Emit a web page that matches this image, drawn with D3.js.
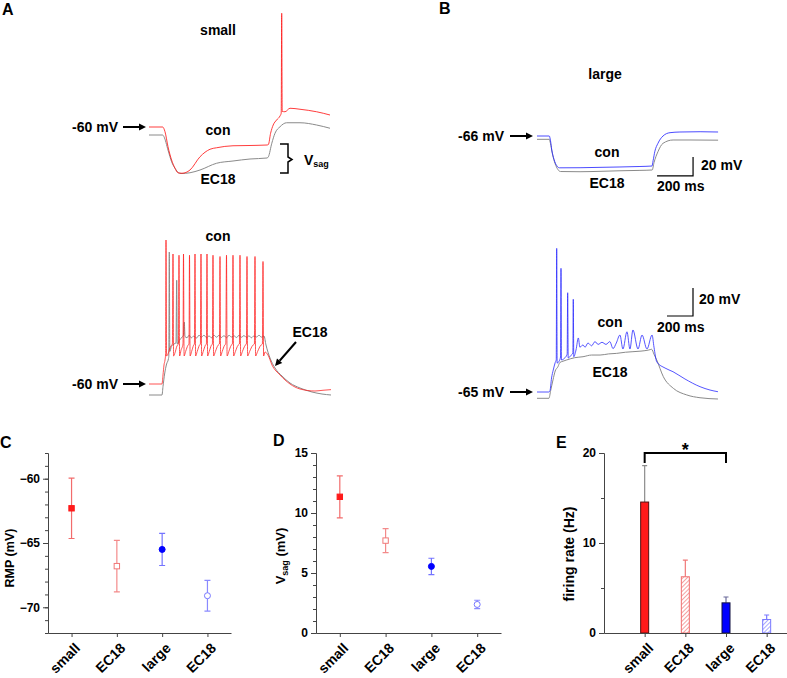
<!DOCTYPE html>
<html><head><meta charset="utf-8">
<script src="https://cdn.jsdelivr.net/npm/d3@7"></script>
<style>
body{margin:0;background:#fff}
svg text{font-family:"Liberation Sans",Arial,sans-serif;font-weight:bold;fill:#000}
</style>
</head><body>
<svg id="fig" width="787" height="678"></svg>
<script>
// ---------------- DATA ----------------
const cats = ["small","EC18","large","EC18"];
// C: resting membrane potential (mV)
const rmpMean = [-62.3,-66.8,-65.5,-69.1];
const rmpSem  = [2.35,2.0,1.25,1.2];
// D: Vsag (mV)
const vsagMean = [11.35,7.7,5.55,2.38];
const vsagSem  = [1.75,1.0,0.68,0.35];
// E: firing rate (Hz)
const rateMean = [14.55,6.25,3.35,1.5];
const rateSem  = [4.05,1.85,0.65,0.5];

const yTicksC = [-70,-65,-60];
const yTicksD = [0,5,10,15];
const yTicksE = [0,10,20];

// traces: [time ms, voltage mV]
const aTopCon = [[0,-60],[68,-60],[80,-63.8],[95,-75.8],[113,-86.4],[130,-93],[145,-96.6],[165,-97],[205,-94.4],[255,-83.8],[305,-77.8],[338,-76.6],[420,-75],[500,-74.8],[590,-74.4],[597,-74],[608,-65],[621,-58.4],[638,-54.4],[655,-51.2],[661,-49],[663.5,31],[666,-47.5],[680,-47.8],[705,-45],[755,-45.8],[838,-47.8],[905,-50.4]];
const aTopEC18 = [[0,-66.4],[68,-66.4],[75,-67.8],[95,-78.4],[113,-87.8],[130,-93],[147,-96.6],[160,-97.2],[205,-96.6],[255,-94.4],[338,-89],[420,-87.2],[505,-85.6],[590,-84.8],[597,-83.8],[614,-73],[630,-65],[655,-59.8],[688,-56.6],[755,-56.6],[838,-58.4],[905,-61]];
const aBotCon = [[0,-60],[65,-60],[70,-52.8],[75,-44.8],[80,-40.8],[83,-36],[85,55.2],[88,-37.6],[95,-36],[105,-31],[115,-28.5],[117,-28],[120,44],[123,-37.6],[130,-35],[140,-29.5],[147,-28],[150,43],[153,-37.6],[160,-33],[170,-28],[172.5,44],[175.5,-37.6],[183,-34],[195,-29],[200,-28],[202.5,43],[205.5,-37.6],[213,-34],[223,-29],[227,-28],[230,44],[233,-37.6],[241,-34],[252,-29],[257,-28],[260,44],[263,-37.6],[271,-34],[282,-29],[287,-28],[290,44],[293,-37.6],[301,-34],[312,-29],[317,-28],[320,43],[323,-37.6],[332,-34],[345,-29],[352,-28],[355,42],[358,-37.6],[366,-34],[378,-29],[384,-28],[387.5,43],[390.5,-37.6],[399,-34],[411,-29],[417,-28],[420,43],[423,-37.6],[432,-34],[445,-29],[452,-28],[455,43],[458,-37.6],[467,-34],[481,-29],[487,-28],[490,42],[493,-37.6],[503,-34],[519,-29],[527,-28],[530,42],[533,-37.6],[543,-34],[559,-29],[567,-28],[570,38],[573,-37.6],[580,-34.4],[595,-36.8],[615,-44.8],[655,-52.8],[705,-60],[755,-64],[830,-65.6],[870,-65],[910,-64.5]];
const aBotEC18 = [[0,-68.8],[65,-68.8],[70,-62],[78,-52],[88,-44],[97,-40],[99,-38],[101.5,45.6],[104,-34],[112,-30],[125,-28],[135,-27],[138.5,23],[141,-28],[152,-25],[168,-22],[172,-21],[176.5,-10.4],[180,-22],[190,-23],[200,-21],[212,-23],[225,-21.5],[238,-23.2],[250,-21],[262,-22.5],[275,-21],[288,-23],[300,-21.5],[312,-23],[325,-21],[338,-22.6],[350,-21],[362,-22.8],[375,-21.3],[388,-23],[400,-21],[412,-22.4],[425,-21.5],[438,-22.8],[450,-21],[462,-22.6],[475,-21.3],[488,-22.8],[500,-21.5],[512,-23],[525,-21.5],[538,-22.4],[550,-21],[562,-22.5],[575,-21.6],[585,-28.8],[605,-39.2],[630,-47.2],[665,-53.6],[705,-59.2],[755,-63.2],[815,-66.4],[865,-68],[910,-68.8]];
const bTopCon = [[0,-66],[68,-66],[75,-71],[82,-80.7],[95,-91],[110,-97.3],[125,-99.5],[239,-99.4],[350,-99],[461,-98.6],[572,-98.1],[639,-97.6],[645,-92],[655,-82],[672,-73.7],[700,-66],[739,-62.5],[794,-61.8],[906,-61.5],[1006,-61.8]];
const bTopEC18 = [[0,-69.5],[68,-69.5],[75,-74],[84,-83],[97,-93],[112,-100],[130,-103.4],[239,-103.6],[350,-103.2],[461,-102.6],[572,-102.2],[640,-101.8],[650,-94],[672,-82.5],[700,-73.7],[756,-70.2],[850,-70.2],[1006,-70.4]];
const bBotCon = [[0,-65],[90,-65],[100,-64],[112,-55],[125,-49.3],[140,-44],[148,-42],[151.5,37.6],[155,-44.3],[170,-43],[181,-40],[184.6,23.3],[188,-42.1],[210,-41],[232,-38],[236,5.9],[240,-40.7],[260,-39],[276,-37],[279,1.2],[283,-39.8],[300,-35],[318,-26.4],[330,-33],[353,-31.4],[370,-33],[392,-30],[420,-32],[446,-29],[470,-31],[500,-29.5],[531,-31],[560,-29],[585,-34],[610,-30],[638,-24.3],[661,-34.3],[692,-22],[715,-34.3],[738,-20.7],[777,-34.3],[808,-24.3],[846,-34.3],[885,-24.3],[900,-33],[921,-43.4],[985,-47.9],[1046,-50.5],[1138,-55.7],[1254,-61.2],[1331,-63.6],[1392,-64.8]];
const bBotEC18 = [[0,-69.5],[92,-69.5],[105,-64],[123,-56.4],[140,-50],[161.5,-46.9],[175,-44],[200,-43],[228.5,-42.1],[290,-40.5],[354,-39.8],[420,-38.6],[485,-38.6],[550,-37.8],[613,-37.4],[680,-36.6],[738,-36.2],[800,-35.8],[860,-35],[882,-34.5],[900,-38],[921,-42.1],[972,-54.1],[1049,-62.4],[1152,-67.1],[1254,-69.1],[1392,-70]];

// ---------------- DRAW ----------------
const svg = d3.select("#fig");
const RED="#ff1a1a", BLUE="#2a2aff", GRAY="#8a8a8a";

function txt(x,y,s,size,anchor){
  return svg.append("text").attr("x",x).attr("y",y).attr("font-size",size||14)
    .attr("text-anchor",anchor||"middle").text(s);
}
function arrow(x1,y1,x2,y2){
  const a=Math.atan2(y2-y1,x2-x1), L=7, W=3.5;
  const bx=x2-L*Math.cos(a), by=y2-L*Math.sin(a);
  svg.append("line").attr("x1",x1).attr("y1",y1).attr("x2",bx).attr("y2",by)
    .attr("stroke","#000").attr("stroke-width",2);
  svg.append("path").attr("fill","#000")
    .attr("d",`M${x2},${y2}L${bx-W*Math.sin(a)},${by+W*Math.cos(a)}L${bx+W*Math.sin(a)},${by-W*Math.cos(a)}Z`);
}
function tracePanel(xDom,xRange,yDom,yRange,traces){
  const x=d3.scaleLinear().domain(xDom).range(xRange);
  const y=d3.scaleLinear().domain(yDom).range(yRange);
  const line=d3.line().x(d=>x(d[0])).y(d=>y(d[1])).curve(d3.curveMonotoneX);
  traces.forEach(([data,color,w])=>{
    svg.append("path").datum(data).attr("d",line).attr("fill","none")
      .attr("stroke",color).attr("stroke-width",w).attr("stroke-linejoin","round");
  });
  return {x,y};
}
function scaleBar(p,t0,v0){
  const x0=p.x(t0), y0=p.y(v0);
  svg.append("path").attr("fill","none").attr("stroke","#000").attr("stroke-width",1.2)
    .attr("d",`M${p.x(t0-200)},${y0}H${x0}V${p.y(v0+20)}`);
}

// panel labels
txt(2,15,"A",16,"start");
txt(439,14,"B",16,"start");
txt(0,448,"C",16,"start");
txt(273,446,"D",16,"start");
txt(556,448,"E",16,"start");

// A top
tracePanel([0,910],[149,331],[-100,40],[177,2],[[aTopEC18,GRAY,1],[aTopCon,RED,0.85]]);
txt(218,35,"small");
txt(118,132,"-60 mV",14,"end"); arrow(123,127,146,127);
txt(218,135,"con");
txt(218,184,"EC18");
svg.append("path").attr("fill","none").attr("stroke","#000").attr("stroke-width",1.5)
  .attr("d","M280,144H288V157L292,159.5L288,162V173H280");
const vs=txt(304,165,"V",14,"start");
vs.append("tspan").attr("font-size",9).attr("dy",2).text("sag");

// A bottom
tracePanel([0,910],[149,331],[-100,60],[434,234],[[aBotEC18,GRAY,1],[aBotCon,RED,0.75]]);
txt(218,241,"con");
txt(118,389,"-60 mV",14,"end"); arrow(123,384,146,384);
txt(310,337,"EC18");
arrow(296,342,275,366);

// B top
const pB1=tracePanel([0,1000],[537,717],[-106,-46],[174,117],[[bTopEC18,GRAY,1],[bTopCon,BLUE,0.85]]);
txt(605,79,"large");
txt(504,141,"-66 mV",14,"end"); arrow(510,136,533,136);
txt(607,157,"con");
txt(607,188,"EC18");
scaleBar(pB1,867,-108);
txt(701,170,"20 mV",14,"start");
txt(657,191,"200 ms",14,"start");

// B bottom
const pB2=tracePanel([0,1400],[537,719],[-75,45],[406,238],[[bBotEC18,GRAY,1],[bBotCon,BLUE,0.8]]);
txt(504,397,"-65 mV",14,"end"); arrow(510,392,533,392);
txt(610,327,"con");
txt(610,377,"EC18");
scaleBar(pB2,1200,-10.7);
txt(699,304,"20 mV",14,"start");
txt(657,332,"200 ms",14,"start");

// ---------- stats panels ----------
const axisColor="#444";
function styleAxis(g){
  g.select(".domain").attr("stroke",axisColor);
  g.selectAll(".tick line").attr("stroke",axisColor);
  g.selectAll("text").attr("font-size",12).attr("font-family",null).attr("fill","#000");
}
function yAxis(scale,x0,major,minor,fmt){
  const gm=svg.append("g").attr("transform",`translate(${x0},0)`)
    .call(d3.axisLeft(scale).tickValues(minor).tickSize(3).tickSizeOuter(0).tickFormat(""));
  styleAxis(gm);
  const g=svg.append("g").attr("transform",`translate(${x0},0)`)
    .call(d3.axisLeft(scale).tickValues(major).tickSize(5).tickSizeOuter(0).tickFormat(fmt||d3.format("d")));
  styleAxis(g);
  g.selectAll("text").attr("x",-8);
}
function xAxis(scale,y0,vals,fmt){
  const g=svg.append("g").attr("transform",`translate(0,${y0})`)
    .call(d3.axisBottom(scale).tickValues(vals).tickSize(4).tickSizeOuter(0).tickFormat(fmt));
  styleAxis(g);
  g.selectAll("text").attr("x",0).attr("y",0).attr("dy",0).attr("font-size",14)
    .attr("text-anchor","end").attr("transform","translate(9,16) rotate(-45)");
}
const ptStyle = [
  {shape:"square",fill:RED,stroke:RED,err:"#f26c6c"},
  {shape:"square",fill:"#fff",stroke:"#f07878",err:"#f38a8a"},
  {shape:"circle",fill:"#0000ff",stroke:"#0000ff",err:"#7474ff"},
  {shape:"circle",fill:"#fff",stroke:"#7878ff",err:"#8a8aff"}
];
function pointPanel(xs,ys,means,sems){
  means.forEach((m,i)=>{
    const st=ptStyle[i], cx=xs(i);
    const yt=ys(m+sems[i]), yb=ys(m-sems[i]);
    svg.append("path").attr("fill","none").attr("stroke",st.err).attr("stroke-width",1.2)
      .attr("d",`M${cx-3},${yt}H${cx+3}M${cx},${yt}V${yb}M${cx-3},${yb}H${cx+3}`);
    if(st.shape==="square"){
      svg.append("rect").attr("x",cx-2.7).attr("y",ys(m)-2.7).attr("width",5.4).attr("height",5.4)
        .attr("fill",st.fill).attr("stroke",st.stroke).attr("stroke-width",1);
    } else {
      svg.append("circle").attr("cx",cx).attr("cy",ys(m)).attr("r",3)
        .attr("fill",st.fill).attr("stroke",st.stroke).attr("stroke-width",1);
    }
  });
}

// C
const yC=d3.scaleLinear().domain([-72,-58]).range([633,453]);
const xC=d3.scalePoint().domain(d3.range(4)).range([48,231]).padding(0.52);
yAxis(yC,48,yTicksC,d3.range(-72,-57,1));
xAxis(xC,633,d3.range(4),i=>cats[i]);
pointPanel(xC,yC,rmpMean,rmpSem);
svg.append("text").attr("font-size",12.5).attr("text-anchor","middle")
  .attr("transform","translate(14,558) rotate(-90)").text("RMP (mV)");

// D
const yD=d3.scaleLinear().domain([0,15]).range([633,453]);
const xD=d3.scalePoint().domain(d3.range(4)).range([316,501]).padding(0.52);
yAxis(yD,316,yTicksD,d3.range(0,16,1));
xAxis(xD,633,d3.range(4),i=>cats[i]);
pointPanel(xD,yD,vsagMean,vsagSem);
const dl=svg.append("text").attr("font-size",13).attr("text-anchor","middle")
  .attr("transform","translate(285,556) rotate(-90)");
dl.append("tspan").text("V");
dl.append("tspan").attr("font-size",9).attr("dy",3).text("sag");
dl.append("tspan").attr("dy",-3).text(" (mV)");

// E
const yE=d3.scaleLinear().domain([0,20]).range([633,453]);
const xE=d3.scaleLinear().domain([0,4.5]).range([604,787]);
const defs=svg.append("defs");
[["hatchR","#f07070"],["hatchB","#7a7aff"]].forEach(([id,c])=>{
  const p=defs.append("pattern").attr("id",id).attr("patternUnits","userSpaceOnUse")
    .attr("width",3).attr("height",3).attr("patternTransform","rotate(45)");
  p.append("rect").attr("width",3).attr("height",3).attr("fill","#fff");
  p.append("line").attr("x1",0).attr("y1",0).attr("x2",0).attr("y2",3).attr("stroke",c).attr("stroke-width",1.3);
});
const barStyle=[
  {fill:RED,stroke:"#551010",err:"#8c8c8c"},
  {fill:"url(#hatchR)",stroke:"#f07070",err:"#f07878"},
  {fill:"#0000ff",stroke:"#101040",err:"#6a6a9a"},
  {fill:"url(#hatchB)",stroke:"#7a7aff",err:"#7a7aff"}
];
rateMean.forEach((m,i)=>{
  const st=barStyle[i], cx=xE(i+1), bw=8;
  const yt=yE(m+rateSem[i]);
  svg.append("path").attr("fill","none").attr("stroke",st.err).attr("stroke-width",1.2)
    .attr("d",`M${cx-2.5},${yt}H${cx+2.5}M${cx},${yt}V${yE(m)}`);
  svg.append("rect").attr("x",cx-bw/2).attr("y",yE(m)).attr("width",bw).attr("height",yE(0)-yE(m))
    .attr("fill",st.fill).attr("stroke",st.stroke).attr("stroke-width",1);
});
yAxis(yE,604,yTicksE,[0,5,10,15,20]);
xAxis(xE,633,[1,2,3,4],d=>cats[d-1]);
svg.append("text").attr("font-size",14).attr("text-anchor","middle")
  .attr("transform","translate(574,554) rotate(-90)").text("firing rate (Hz)");
// significance bracket
svg.append("path").attr("fill","none").attr("stroke","#000").attr("stroke-width",2)
  .attr("d",`M${xE(1)},${yE(18.9)}V${yE(20)}H${xE(3)}V${yE(18.9)}`);
txt((xE(1)+xE(3))/2,456,"*",18);
</script>
</body></html>
